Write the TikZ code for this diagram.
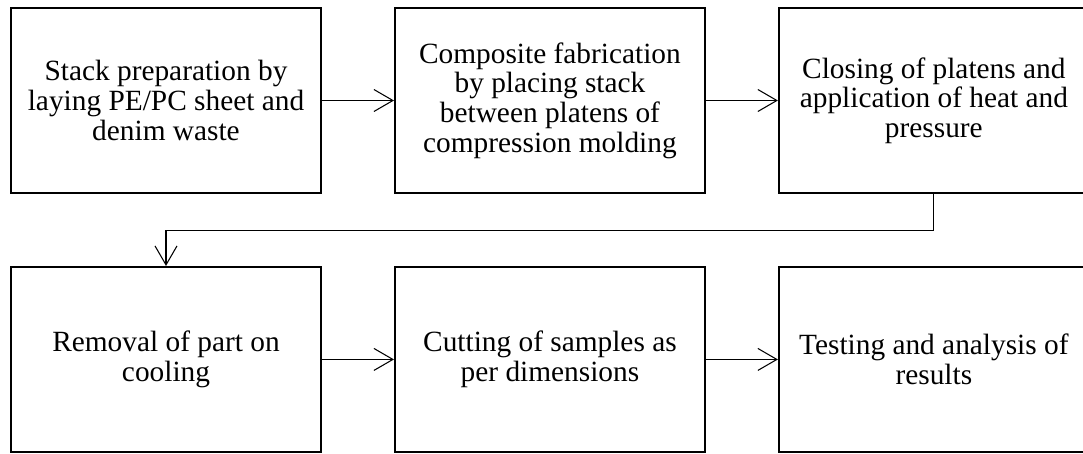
\documentclass[tikz,border=0pt]{standalone}
\usepackage{fontspec}
\setmainfont{Liberation Serif}
\usepackage{tikz}
\usetikzlibrary{arrows.meta,positioning}

\begin{document}
\begin{tikzpicture}

\tikzset{
	stepbox/.style={
		draw=black,
		rectangle,
		line width=1.1pt,
		minimum width=6.2cm,
		minimum height=3.7cm,
		inner sep=0pt,
		align=center,
		font=\fontsize{16.7}{16.9}\selectfont},
	arrin/.style={
		{Straight Barb[length=0.38cm,width=0.44cm]}-,
		line width=0.6pt},
	arrout/.style={
		-{Straight Barb[length=0.38cm,width=0.44cm]},
		line width=0.6pt}
}

\useasboundingbox (0,0) rectangle (21.66,-9.06);

\node[stepbox] (prep) at (3.32,-2.01) {Stack preparation by\\laying PE/PC sheet and\\denim waste};

\node[stepbox,right=1.44cm of prep] (fab) {Composite fabrication\\by placing stack\\between platens of\\compression molding}
 edge[arrin] (prep);

\node[stepbox,right=1.44cm of fab] (press) {Closing of platens and\\application of heat and\\pressure}
 edge[arrin] (fab);

\node[stepbox,below=1.44cm of prep] (cool) {Removal of part on\\cooling};

\node[stepbox,right=1.44cm of cool] (cut) {Cutting of samples as\\per dimensions}
 edge[arrin] (cool);

\node[stepbox,right=1.44cm of cut] (test) {Testing and analysis of\\results}
 edge[arrin] (cut);

% down from pressing, back to the second row
\draw[arrout] (press.south) -- ++(0,-0.74) -| (cool.north);

\end{tikzpicture}
\end{document}
